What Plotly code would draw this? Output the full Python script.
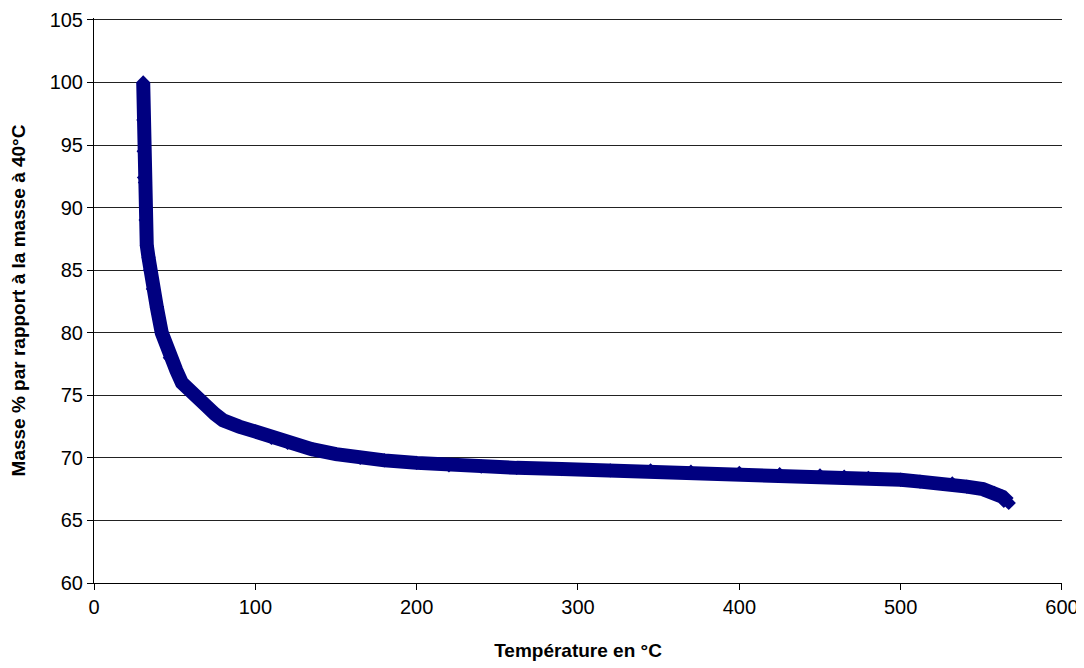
import plotly.graph_objects as go

temperature = [30.5, 30.6, 30.8, 31.0, 31.6, 32.0, 32.7, 33.8, 34.7, 36.5, 39, 42, 47, 51,
               54.5, 58, 63, 67, 70, 75, 80, 90, 100, 110, 120, 135, 150, 165, 180, 200,
               220, 240, 262, 290, 320, 345, 370, 400, 425, 450, 465, 480, 500, 512, 532,
               541, 551, 558, 563, 567]
mass = [100, 97, 94.5, 92.4, 92.0, 89.0, 87.0, 86.0, 85.0, 83.5, 82, 80, 78, 77,
        76, 75.5, 75, 74.5, 74.1, 73.5, 73.0, 72.5, 72.1, 71.6, 71.2, 70.7, 70.3, 70.0, 69.8, 69.6,
        69.4, 69.3, 69.2, 69.1, 69.0, 69.0, 68.9, 68.8, 68.7, 68.6, 68.5, 68.4, 68.25, 68.1, 67.96,
        67.7, 67.5, 67.2, 66.9, 66.4]

x_ticks = [0, 100, 200, 300, 400, 500, 600]
y_ticks = [60, 65, 70, 75, 80, 85, 90, 95, 100, 105]

navy = "#000080"

fig = go.Figure()
fig.add_trace(go.Scatter(
    x=temperature, y=mass, mode="lines+markers",
    line=dict(color=navy, width=14),
    marker=dict(symbol="diamond", size=11, color=navy),
    showlegend=False,
))

font = "Liberation Sans, Arial, sans-serif"
fig.update_layout(
    width=1076, height=660,
    margin=dict(l=86, r=22, t=10, b=85),
    paper_bgcolor="white", plot_bgcolor="white",
    font=dict(family=font, color="black", size=19),
    xaxis=dict(
        range=[0, 600.01], tickvals=x_ticks, showgrid=False, automargin=False,
        showline=True, linecolor="black", linewidth=1,
        ticks="outside", ticklen=6, tickcolor="black",
        tickfont=dict(size=20), ticklabeloverflow="allow",
        title=dict(text="<b>Température en °C</b>", font=dict(size=19), standoff=26),
        zeroline=False,
    ),
    yaxis=dict(
        range=[60, 105.15], tickvals=y_ticks, showgrid=True, gridcolor="#222222", gridwidth=1,
        automargin=False,
        showline=True, linecolor="black", linewidth=1,
        ticks="outside", ticklen=6, tickcolor="black",
        tickfont=dict(size=20), ticklabeloverflow="allow",
        title=dict(text="<b>Masse % par rapport à la masse à 40°C</b>", font=dict(size=19), standoff=19),
        zeroline=False,
    ),
)

fig.write_html("out.html")
